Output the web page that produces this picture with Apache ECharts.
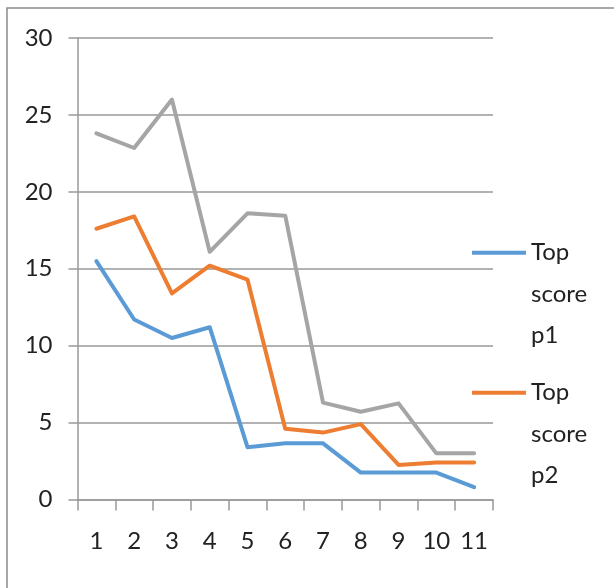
<!DOCTYPE html>
<html>
<head>
<meta charset="utf-8">
<script src="https://cdn.jsdelivr.net/npm/echarts@6/dist/echarts.min.js"></script>
<style>
  html, body { margin: 0; padding: 0; background: #ffffff; }
  #chart { width: 614px; height: 588px; }
</style>
</head>
<body>
<div id="chart"></div>
<script>
// Category labels along the x axis
const categories = ['1', '2', '3', '4', '5', '6', '7', '8', '9', '10', '11'];

// Series values
const topScoreP1 = [15.5, 11.7, 10.5, 11.2, 3.4, 3.65, 3.65, 1.75, 1.75, 1.75, 0.8];
const topScoreP2 = [17.6, 18.4, 13.4, 15.2, 14.3, 4.6, 4.35, 4.9, 2.25, 2.4, 2.4];
const topScoreP3 = [23.8, 22.85, 26.0, 16.1, 18.6, 18.45, 6.3, 5.7, 6.25, 3.0, 3.0];

// Series names
const seriesNames = ['Top score p1', 'Top score p2', 'Top score p3'];

const FONT = 'Lato, "Open Sans", sans-serif';
const TEXT_COLOR = '#222222';
const GRID_COLOR = '#999999';

const chart = echarts.init(document.getElementById('chart'), null, { renderer: 'canvas' });

// Each legend entry wraps its name one word per line; two blank lines on top
// keep the swatch level with the first word.
function legendFor(name, color, top) {
  return {
    data: [{ name: name, icon: 'rect', itemStyle: { color: color } }],
    left: 467,
    top: top,
    orient: 'vertical',
    itemWidth: 54,
    itemHeight: 4,
    selectedMode: false,
    formatter: (n) => '\n\n' + n.split(' ').join('\n'),
    textStyle: {
      fontFamily: FONT,
      fontSize: 24,
      color: TEXT_COLOR,
      lineHeight: 41.5
    }
  };
}

const lineSeries = (name, data, color) => ({
  name: name,
  type: 'line',
  data: data,
  symbol: 'none',
  color: color,
  lineStyle: { color: color, width: 4, cap: 'round', join: 'round' },
  emphasis: { disabled: true }
});

chart.setOption({
  animation: false,
  backgroundColor: '#ffffff',
  graphic: [{
    type: 'rect',
    shape: { x: 7, y: 8, width: 800, height: 800 },
    style: { fill: 'none', stroke: '#8a8a8a', lineWidth: 1.5 },
    silent: true,
    z: -10
  }],
  grid: {
    left: 77.5,
    right: 121,
    top: 38,
    bottom: 88.5,
    containLabel: false,
    outerBoundsMode: 'none'
  },
  legend: [
    legendFor(seriesNames[0], '#5B9BD5', 144),
    legendFor(seriesNames[1], '#ED7D31', 284)
  ],
  xAxis: {
    type: 'category',
    data: categories,
    boundaryGap: true,
    axisLine: { show: true, lineStyle: { color: GRID_COLOR, width: 1.5 } },
    axisTick: { show: true, length: 11, alignWithLabel: false, lineStyle: { color: GRID_COLOR, width: 1.5 } },
    axisLabel: { fontFamily: FONT, fontSize: 24, color: TEXT_COLOR, margin: 30, interval: 0 },
    splitLine: { show: false }
  },
  yAxis: {
    type: 'value',
    min: 0,
    max: 30,
    interval: 5,
    axisLine: { show: true, lineStyle: { color: GRID_COLOR, width: 1.5 } },
    axisTick: { show: true, length: 9, lineStyle: { color: GRID_COLOR, width: 1.5 } },
    axisLabel: { fontFamily: FONT, fontSize: 24, color: TEXT_COLOR, margin: 25 },
    splitLine: { show: true, lineStyle: { color: GRID_COLOR, width: 1.5 } }
  },
  series: [
    lineSeries(seriesNames[0], topScoreP1, '#5B9BD5'),
    lineSeries(seriesNames[1], topScoreP2, '#ED7D31'),
    lineSeries(seriesNames[2], topScoreP3, '#A5A5A5')
  ]
});
</script>
</body>
</html>
